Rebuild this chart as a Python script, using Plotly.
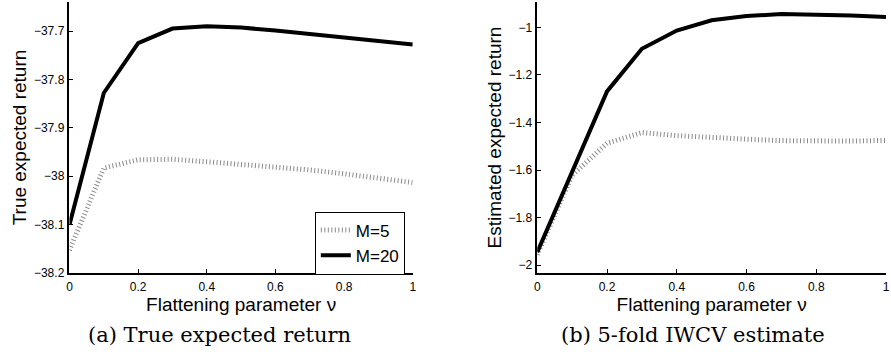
import plotly.graph_objects as go
from plotly.subplots import make_subplots

nu = [0, 0.1, 0.2, 0.3, 0.4, 0.5, 0.6, 0.7, 0.8, 0.9, 1.0]

true_m5 = [-38.153, -37.983, -37.966, -37.965, -37.970, -37.975, -37.980, -37.987, -37.995, -38.003, -38.013]
true_m20 = [-38.100, -37.828, -37.725, -37.695, -37.690, -37.693, -37.699, -37.706, -37.713, -37.721, -37.728]

est_m5 = [-1.956, -1.622, -1.487, -1.442, -1.455, -1.465, -1.470, -1.476, -1.478, -1.478, -1.475]
est_m20 = [-1.945, -1.605, -1.269, -1.090, -1.013, -0.970, -0.952, -0.944, -0.945, -0.950, -0.956]

xticks = [0, 0.2, 0.4, 0.6, 0.8, 1]
yticks_a = [-38.2, -38.1, -38.0, -37.9, -37.8, -37.7]
yticks_b = [-2.0, -1.8, -1.6, -1.4, -1.2, -1.0]

W, H = 891, 358

fig = make_subplots(rows=1, cols=2)

dot_style = dict(color="#8a8a8a", width=5, dash="1px,2.5px")
solid_style = dict(color="black", width=4)

fig.add_trace(go.Scatter(x=nu, y=true_m5, mode="lines", line=dot_style, name="M=5"), row=1, col=1)
fig.add_trace(go.Scatter(x=nu, y=true_m20, mode="lines", line=solid_style, name="M=20"), row=1, col=1)
fig.add_trace(go.Scatter(x=nu, y=est_m5, mode="lines", line=dot_style, name="M=5", showlegend=False), row=1, col=2)
fig.add_trace(go.Scatter(x=nu, y=est_m20, mode="lines", line=solid_style, name="M=20", showlegend=False), row=1, col=2)

ytop = 1 - 2 / H
ybot = 1 - 278.5 / H

sans = "Liberation Sans, Arial"
axis_common = dict(
    showgrid=False, zeroline=False, showline=True, linecolor="black", linewidth=1.5,
    ticks="inside", ticklen=4, tickcolor="black", tickwidth=1,
    tickfont=dict(family=sans, size=12, color="black"),
    mirror=False,
)

fig.update_xaxes(**axis_common, ticklabelstandoff=2)
fig.update_yaxes(**axis_common, ticklabelstandoff=1)

title_font = dict(family=sans, size=19, color="black")

fig.update_layout(
    width=W, height=H,
    margin=dict(l=0, r=0, t=0, b=0),
    paper_bgcolor="white", plot_bgcolor="white",
    xaxis=dict(domain=[67 / W, 413 / W], range=[0, 1], tickvals=xticks,
               title=dict(text="Flattening parameter ν", standoff=3, font=title_font)),
    xaxis2=dict(domain=[538.5 / W, 890 / W], range=[0, 1], tickvals=xticks,
                title=dict(text="Flattening parameter ν", standoff=3, font=title_font)),
    yaxis=dict(domain=[ybot, ytop], range=[-38.2, -37.64], tickvals=yticks_a,
               title=dict(text="True expected return", standoff=2, font=title_font)),
    yaxis2=dict(domain=[ybot, ytop], range=[-2.033, -0.893], tickvals=yticks_b,
                title=dict(text="Estimated expected return", standoff=2, font=title_font)),
    legend=dict(
        x=405 / W, y=1 - 280 / H, xanchor="right", yanchor="bottom",
        bgcolor="white", bordercolor="black", borderwidth=1,
        font=dict(family=sans, size=17, color="black"),
        tracegroupgap=0, itemwidth=30,
    ),
    showlegend=True,
)

cap_font = dict(family="DejaVu Serif, Liberation Serif, serif", size=21, color="black")
fig.add_annotation(text="(a) True expected return", x=218 / W, y=1 - 342 / H,
                   xref="paper", yref="paper", showarrow=False, font=cap_font,
                   xanchor="center", yanchor="middle")
fig.add_annotation(text="(b) 5-fold IWCV estimate", x=695 / W, y=1 - 342 / H,
                   xref="paper", yref="paper", showarrow=False, font=cap_font,
                   xanchor="center", yanchor="middle")

fig.write_html("out.html")
